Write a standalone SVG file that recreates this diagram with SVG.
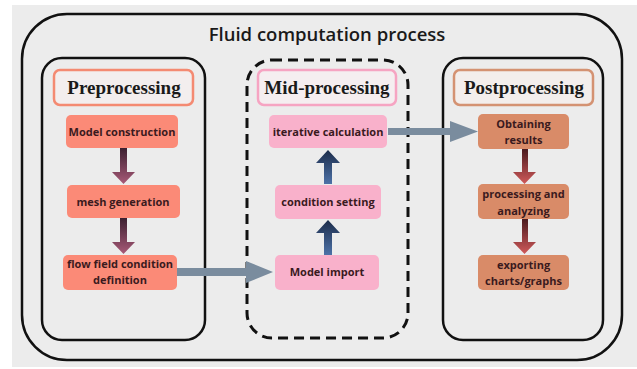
<svg xmlns="http://www.w3.org/2000/svg" width="637" height="369" viewBox="0 0 637 369">
<style>
.panel{fill:none;stroke:#111;stroke-width:2.5}
.hdr{stroke-width:2.5}
.htxt{font-family:"Liberation Serif",serif;font-weight:bold;font-size:19px;fill:#1a1a1a;text-anchor:middle}
.btxt{font-family:"Open Sans","Noto Sans",sans-serif;font-weight:bold;font-size:11px;fill:#3a1a1e;text-anchor:middle}
.pre{fill:#fb8a77}
.mid{fill:#f9b1cb}
.post{fill:#d98b68}
.harrow{fill:#7a8c9e}
</style>
<defs>
<linearGradient id="gPre" x1="0" y1="0" x2="0" y2="1">
<stop offset="0" stop-color="#3c2030"/><stop offset="1" stop-color="#a85a78"/>
</linearGradient>
<linearGradient id="gMid" x1="0" y1="1" x2="0" y2="0">
<stop offset="0" stop-color="#4d72a8"/><stop offset="1" stop-color="#1c2c4a"/>
</linearGradient>
<linearGradient id="gPost" x1="0" y1="0" x2="0" y2="1">
<stop offset="0" stop-color="#4a1a1e"/><stop offset="1" stop-color="#d05a5a"/>
</linearGradient>
</defs>
<rect x="0" y="0" width="637" height="369" fill="#ffffff"/>
<rect x="12" y="5" width="625" height="362" fill="#ececec"/>
<g id="outer">
<rect x="22" y="14" width="600" height="346" rx="45" class="panel"/>
<text x="327" y="41" font-family="'Open Sans','Noto Sans',sans-serif" font-size="18.5" font-weight="600" fill="#1a1a1a" text-anchor="middle">Fluid computation process</text>
</g>
<g id="preprocessing">
<rect x="42" y="58" width="163" height="282" rx="20" class="panel"/>
<rect x="54" y="70" width="139" height="35" rx="6" fill="#f3eeee" stroke="#f48a72" class="hdr"/>
<text x="124" y="93.5" class="htxt">Preprocessing</text>
</g>
<g id="mid-processing">
<rect x="247" y="60" width="161" height="278" rx="25" fill="none" stroke="#111" stroke-width="3" stroke-dasharray="10 6"/>
<rect x="258" y="70" width="138" height="35" rx="6" fill="#f5eef0" stroke="#f6a4c2" class="hdr"/>
<text x="327" y="93.5" class="htxt">Mid-processing</text>
</g>
<g id="postprocessing">
<rect x="443" y="58" width="160" height="282" rx="20" class="panel"/>
<rect x="454" y="70" width="139" height="35" rx="6" fill="#f3eeec" stroke="#d49272" class="hdr"/>
<text x="524" y="93.5" class="htxt">Postprocessing</text>
</g>
<g id="model-construction">
<rect x="66" y="115" width="112" height="33" rx="5" class="pre"/>
<text x="122" y="135.5" class="btxt">Model construction</text>
</g>
<g id="mesh-generation">
<rect x="67" y="185" width="113" height="33" rx="5" class="pre"/>
<text x="123" y="206" class="btxt">mesh generation</text>
</g>
<g id="flow-field">
<rect x="63" y="255" width="114" height="35" rx="5" class="pre"/>
<text x="120" y="268" class="btxt">flow field condition</text>
<text x="120" y="284" class="btxt">definition</text>
</g>
<g id="iterative-calculation">
<rect x="269" y="115" width="118" height="33" rx="5" class="mid"/>
<text x="328" y="135.5" class="btxt">iterative calculation</text>
</g>
<g id="condition-setting">
<rect x="275" y="185" width="106" height="34" rx="5" class="mid"/>
<text x="328" y="206" class="btxt">condition setting</text>
</g>
<g id="model-import">
<rect x="275" y="255" width="104" height="35" rx="5" class="mid"/>
<text x="327" y="276" class="btxt">Model import</text>
</g>
<g id="obtaining-results">
<rect x="478" y="114" width="91" height="35" rx="5" class="post"/>
<text x="523.5" y="127.5" class="btxt">Obtaining</text>
<text x="523.5" y="144" class="btxt">results</text>
</g>
<g id="processing-analyzing">
<rect x="478" y="184" width="91" height="35" rx="5" class="post"/>
<text x="523.5" y="198" class="btxt">processing and</text>
<text x="523.5" y="214.5" class="btxt">analyzing</text>
</g>
<g id="exporting">
<rect x="478" y="255" width="91" height="35" rx="5" class="post"/>
<text x="523.5" y="268.5" class="btxt">exporting</text>
<text x="523.5" y="285" class="btxt">charts/graphs</text>
</g>
<g id="connectors">
<path d="M120 148 H127 V172 H135 L123.5 184 L112 172 H120 Z" fill="url(#gPre)"/>
<path d="M120 218 H127 V242 H135 L123.5 254 L112 242 H120 Z" fill="url(#gPre)"/>
<path d="M324 184 H332 V163 H340 L328 150 L316 163 H324 Z" fill="url(#gMid)"/>
<path d="M324 255 H332 V233 H340 L328 220 L316 233 H324 Z" fill="url(#gMid)"/>
<path d="M522 149 H528 V172 H536 L524.5 184 L513 172 H522 Z" fill="url(#gPost)"/>
<path d="M522 219 H528 V242 H536 L524.5 254 L513 242 H522 Z" fill="url(#gPost)"/>
<path d="M177 268 H246 V261 L273 272 L246 283 V276 H177 Z" class="harrow"/>
<path d="M388 128 H450 V121 L478 131.5 L450 142 V135 H388 Z" class="harrow"/>
</g>
</svg>
